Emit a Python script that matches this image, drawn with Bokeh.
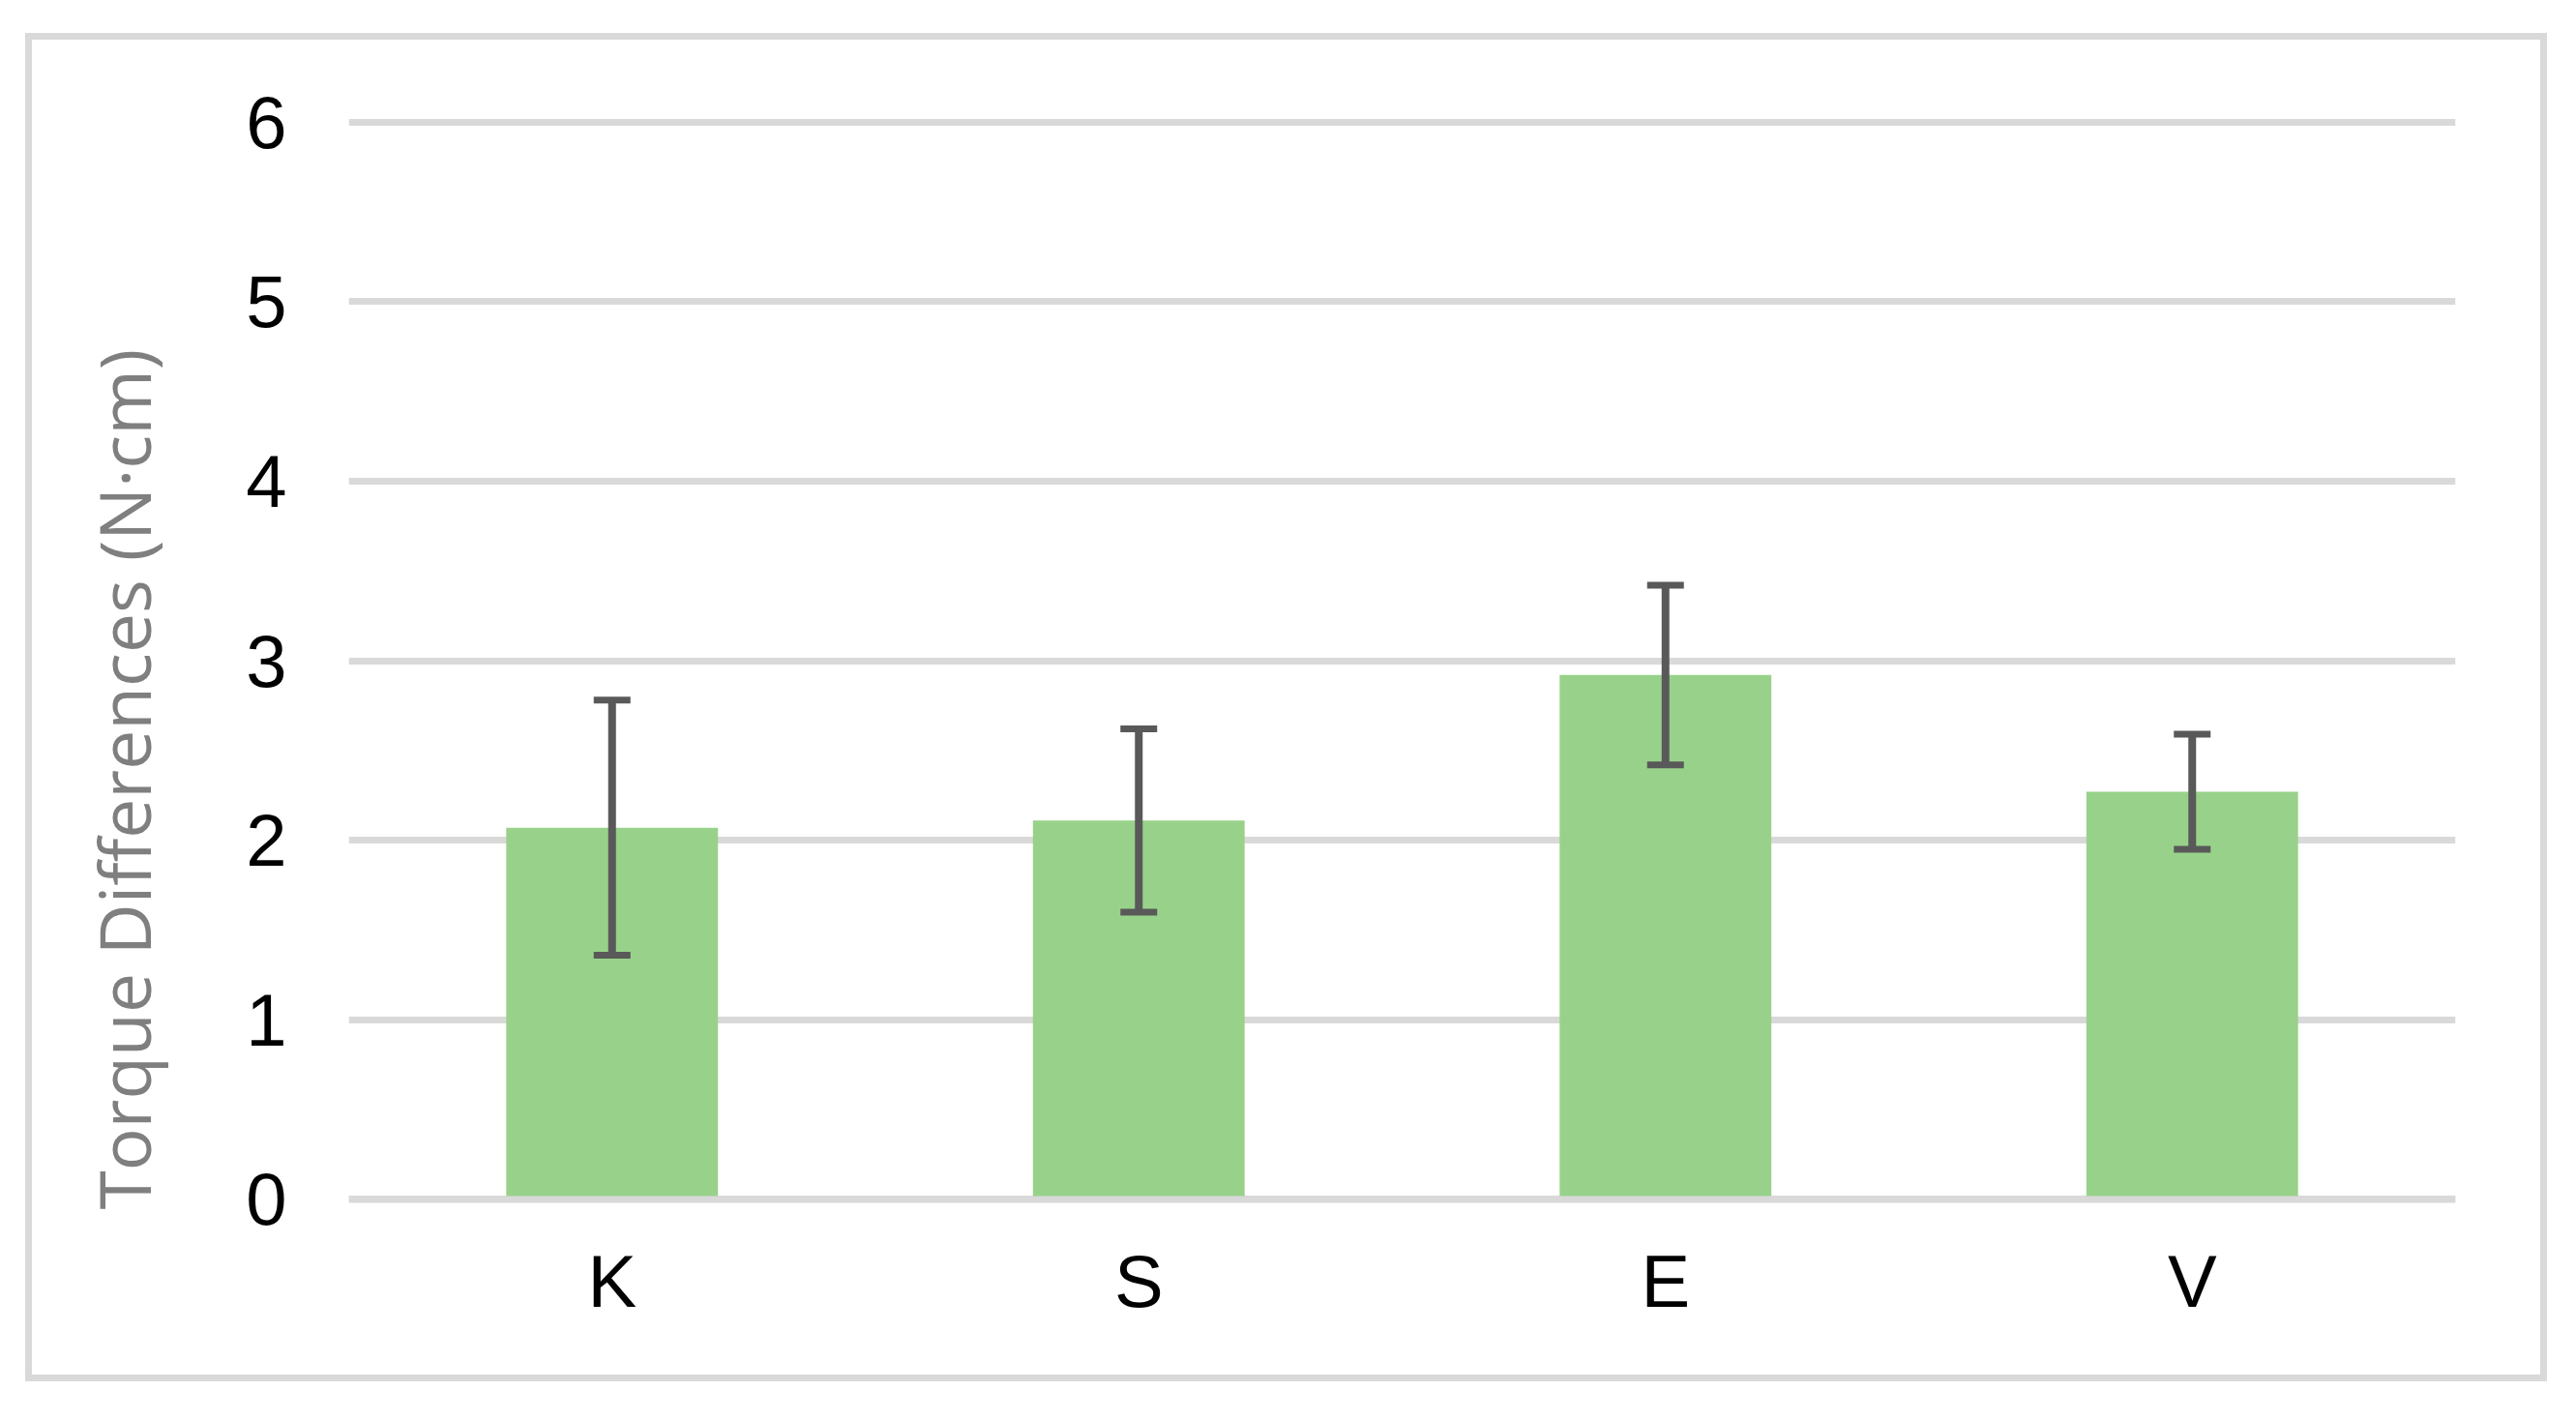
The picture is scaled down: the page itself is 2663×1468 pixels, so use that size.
from bokeh.plotting import figure
from bokeh.models import (ColumnDataSource, Whisker, TeeHead, Range1d, FactorRange,
                          Span, Title)
from bokeh.embed import file_html
from bokeh.resources import INLINE

# ---- data ----
categories = ["K", "S", "E", "V"]
means = [2.07, 2.11, 2.92, 2.27]
errors = [0.71, 0.51, 0.50, 0.32]
y_ticks = [0, 1, 2, 3, 4, 5, 6]
y_label = "Torque Differences (N·cm)"

lower = [m - e for m, e in zip(means, errors)]
upper = [m + e for m, e in zip(means, errors)]
src = ColumnDataSource(dict(cat=categories, mean=means, lower=lower, upper=upper))

W, H = 2659, 1446
p = figure(x_range=FactorRange(*categories), y_range=Range1d(-0.03, 6.03),
           width=W, height=H, output_backend="svg", toolbar_location=None,
           min_border_left=359, min_border_right=121, min_border_top=112, min_border_bottom=209)

# transparent canvas so the CSS outline (chart border) shows through
p.background_fill_color = None
p.border_fill_color = None

p.vbar(x="cat", top="mean", bottom=0, width=0.402, source=src,
       fill_color="#98D28A", line_color=None)

zero = Span(location=0, dimension="width", line_color="#D9D9D9", line_width=7, level="overlay")
p.add_layout(zero)

wh = Whisker(base="cat", upper="upper", lower="lower", source=src,
             line_color="#595959", line_width=8, level="overlay",
             upper_head=TeeHead(size=38, line_color="#595959", line_width=7),
             lower_head=TeeHead(size=38, line_color="#595959", line_width=7))
p.add_layout(wh)

p.outline_line_color = None
p.xgrid.grid_line_color = None
p.ygrid.ticker = y_ticks
p.ygrid.grid_line_color = "#D9D9D9"
p.ygrid.grid_line_width = 7

for ax in (p.xaxis, p.yaxis):
    ax.axis_line_color = None
    ax.major_tick_line_color = None
    ax.minor_tick_line_color = None
    ax.major_label_text_font = "Liberation Sans"
    ax.major_label_text_font_size = "76px"
    ax.major_label_text_color = "#000000"
p.yaxis.ticker = y_ticks
p.yaxis.major_label_standoff = 58
p.xaxis.major_label_standoff = 30

ttl = Title(text=y_label, align="left", offset=-5, vertical_align="bottom", standoff=150,
            text_font="Open Sans", text_font_size="73px", text_font_style="normal",
            text_color="#7F7F7F")
p.add_layout(ttl, "left")

# outer chart border drawn as a CSS outline inset into the canvas
p.styles = {"margin-top": "8px", "outline": "7px solid #D9D9D9", "outline-offset": "-33px",
            "background-color": "white"}

open("out.html", "w").write(file_html(p, INLINE))
